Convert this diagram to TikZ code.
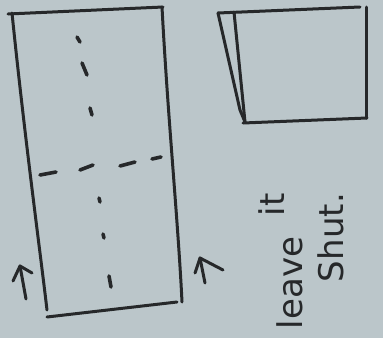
\documentclass[tikz,border=0pt]{standalone}
\usepackage{fontspec}
\setmainfont{DejaVu Sans}
\definecolor{paper}{RGB}{187,198,202}
\definecolor{ink}{RGB}{38,40,42}
\tikzset{
  pen/.style={draw=ink, line width=3pt, line cap=round, line join=round},
  dashmark/.style={draw=ink, line width=3.6pt, line cap=round},
  hand/.style={text=ink, font=\fontsize{34}{34}\selectfont, rotate=90, anchor=base west, inner sep=0pt, outer sep=0pt}
}
\begin{document}
\begin{tikzpicture}[x=1pt,y=-1pt]
\fill[paper] (0,0) rectangle (383,338);
\useasboundingbox (0,0) rectangle (383,338);
% long rectangle
\draw[pen] (8,14) -- (163,7);
\draw[pen] (12,13) .. controls (25,140) and (40,250) .. (47,310);
\draw[pen] (162,7) .. controls (168,120) and (178,220) .. (182,302);
\draw[pen] (47,317) -- (177,302);
% vertical dashed line, upper part
\draw[dashmark] (77,37) -- (80,42);
\draw[dashmark] (82,63) -- (87,75);
\draw[dashmark] (90,108) -- (92,115);
% horizontal dashed line
\draw[dashmark] (40,175) -- (56,172);
\draw[dashmark] (80,170) -- (93,165);
\draw[dashmark] (120,166) -- (135,162);
\draw[dashmark] (152,159) -- (161,157);
% vertical dashed line, lower part
\draw[dashmark] (99,198) -- (100,202);
\draw[dashmark] (103,234) -- (104,238);
\draw[dashmark] (109,276) -- (111,287);
% arrows
\coordinate (la0) at (26,299);
\coordinate (la1) at (20,266);
\draw[pen] (la0) -- (la1);
\draw[pen] (13,281) -- (la1) -- (32,273);
\coordinate (ra0) at (205,283);
\coordinate (ra1) at (200,258);
\draw[pen] (ra0) -- (ra1);
\draw[pen] (195,273) -- (ra1) -- (223,270);
% square with folded flap
\draw[pen] (218,13) -- (360,7);
\draw[pen] (366,7) -- (366,118);
\draw[pen] (243,123) -- (367,118);
\draw[pen] (234,12) -- (245,122);
\draw[pen] (218,13) -- (240,110) -- (245,122);
% text
\node[hand] (leave) at (302,329) {leave};
\node[hand] (it) at (284,216) {it};
\node[hand] (shut) at (343,282) {Shut.};
\end{tikzpicture}
\end{document}
